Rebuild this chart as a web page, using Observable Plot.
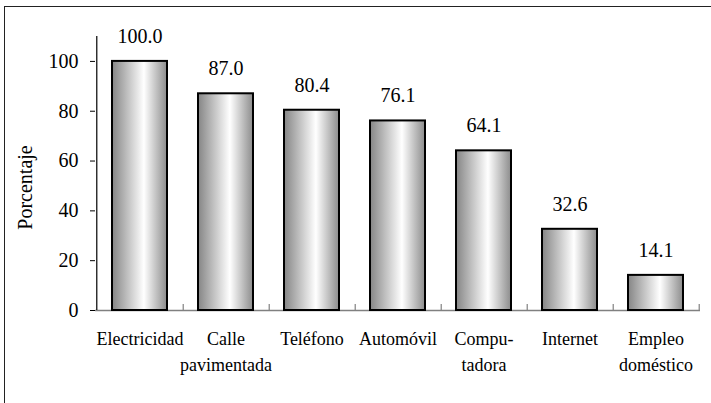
<!DOCTYPE html>
<html>
<head>
<meta charset="utf-8">
<script src="https://cdn.jsdelivr.net/npm/d3@7"></script>
<script src="https://cdn.jsdelivr.net/npm/@observablehq/plot@0.6"></script>
<style>
  html, body { margin: 0; padding: 0; background: #fff; overflow: hidden; }
  #wrap { position: relative; width: 711px; height: 403px; }
  #border { position: absolute; left: 4px; top: 6px; width: 800px; height: 500px;
            border-top: 1.5px solid #222; border-left: 1.5px solid #222; pointer-events: none; }
  #chart { position: absolute; left: 0; top: 0; }
  #chart svg text { font-family: "Liberation Serif", "Times New Roman", serif !important; }
</style>
</head>
<body>
<div id="wrap"><div id="chart"></div><div id="border"></div></div>
<script>
const categories = ["Electricidad", "Calle\npavimentada", "Teléfono", "Automóvil", "Compu-\ntadora", "Internet", "Empleo\ndoméstico"];
const values = [100.0, 87.0, 80.4, 76.1, 64.1, 32.6, 14.1];
const valueLabels = ["100.0", "87.0", "80.4", "76.1", "64.1", "32.6", "14.1"];
const yTicks = [0, 20, 40, 60, 80, 100];
const yLabel = "Porcentaje";

const data = categories.map((c, i) => ({cat: c, value: values[i], label: valueLabels[i]}));

const W = 711, H = 403, mL = 95, mR = 11, mT = 36, mB = 93;
const step = (W - mL - mR) / categories.length;
const font = "Liberation Serif";

const plot = Plot.plot({
  width: W, height: H,
  marginLeft: mL, marginRight: mR, marginTop: mT, marginBottom: mB,
  style: {fontFamily: font, background: "transparent", color: "#000"},
  x: {domain: categories, paddingInner: 0.36, paddingOuter: 0.18, axis: null},
  y: {domain: [0, 110], axis: null},
  marks: [
    Plot.ruleY([0], {stroke: "#808080", strokeWidth: 1.5}),
    Plot.ruleX(categories, {x: d => d, dx: step / 2, insetTop: H - mT - mB - 6, stroke: "#808080", strokeWidth: 1.2}),
    Plot.barY(data, {x: "cat", y: "value", fill: "url(#barGrad)", stroke: "#000", strokeWidth: 2}),
    Plot.ruleX([categories[0]], {x: d => d, dx: -step / 2, stroke: "#000", strokeWidth: 1.2}),
    Plot.axisY({ticks: yTicks, tickSize: 5, tickPadding: 12, fontSize: 20, fontFamily: font, label: null, stroke: "#000"}),
    Plot.text(data, {x: "cat", y: "value", text: "label", dy: -25, lineAnchor: "middle", fontSize: 20, fontFamily: font, fill: "#000"}),
    Plot.text(data, {x: "cat", y: 0, text: "cat", lineAnchor: "top", dy: 17, fontSize: 18, fontFamily: font, lineHeight: 1.4, fill: "#000"}),
    Plot.text([yLabel], {frameAnchor: "left", text: d => d, textAnchor: "middle", lineAnchor: "middle", rotate: -90, dx: -70, dy: 14, fontSize: 20, fontFamily: font, fill: "#000"})
  ]
});

const svg = d3.select(plot);
const defs = svg.insert("defs", ":first-child");
const g = defs.append("linearGradient").attr("id", "barGrad").attr("x1", "0").attr("x2", "1").attr("y1", "0").attr("y2", "0");
g.append("stop").attr("offset", "0").attr("stop-color", "#858585");
g.append("stop").attr("offset", "0.58").attr("stop-color", "#ffffff");
g.append("stop").attr("offset", "1").attr("stop-color", "#8c8c8c");

document.getElementById("chart").appendChild(plot);
</script>
</body>
</html>
